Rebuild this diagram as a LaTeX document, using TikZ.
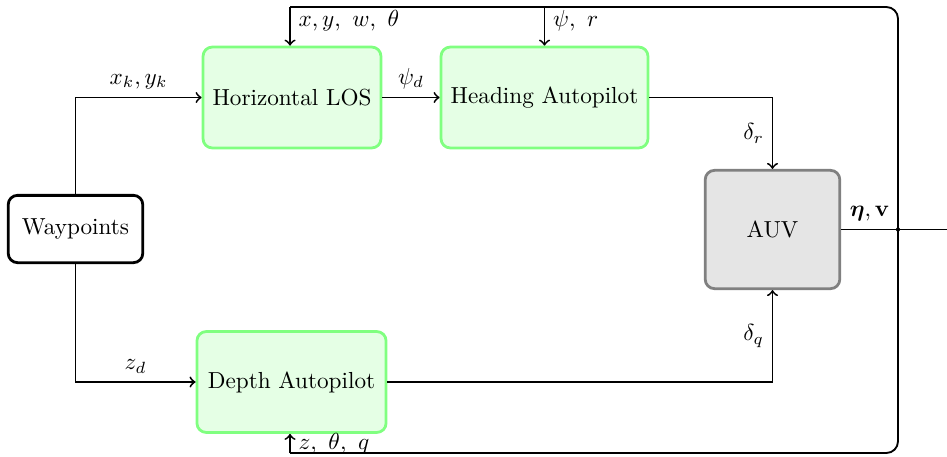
\documentclass[tikz,border=0pt]{standalone}
\usepackage{amsmath}
\usepackage{tikz}

\begin{document}
\begin{tikzpicture}[x=0.431pt, y=-0.431pt,
        ctrl/.style = {very thick, draw=green!50, fill=green!10, rounded corners=4pt, minimum height=43.5pt},
        src/.style = {very thick, draw, rounded corners=4pt, minimum width=58pt, minimum height=29pt},
        plant/.style = {very thick, draw=gray, fill=gray!20, rounded corners=4pt, minimum width=58pt, minimum height=51pt},
        every path/.style = {thick}]
        \useasboundingbox (0,0) rectangle (947,457);

        \node[src] (1) at (75.5,229) {Waypoints};
        \node[ctrl, minimum width=76.7pt] (2) at (292,97.5) {Horizontal LOS};
        \node[ctrl, minimum width=89.2pt] (3) at (544.5,97.5) {Heading Autopilot};
        \node[plant] (4) at (772.5,229.5) {AUV};
        \node[ctrl, minimum width=81.5pt] (5) at (291.5,382) {Depth Autopilot};
        \coordinate (6) at (898,229.5);
        \coordinate (7) at (947,229.5);
        \coordinate (8) at (290,7);
        \coordinate (9) at (290,453);

        \draw[->] (1) |- node[pos=0.75, above] {$x_k,y_k$} (2);
        \draw[->] (1) |- node[pos=0.75, above] {$z_d$} (5);
        \draw[->] (2) -- node[above] {$\psi_d$} (3);

        \draw[->] (3) -| node[pos=0.75, left] {$\delta_r$} (4);
        \draw[->] (5) -| node[pos=0.75, left] {$\delta_q$} (4);

        \draw (4) -- node[above] {$\boldsymbol{\eta},\mathbf{v}$} (6) -- (7);
        \fill (6) circle (0.9pt);

        % feedback
        \draw[rounded corners=5pt] (6) |- (8);
        \draw[->] (8) -- node[pos=0.35, right] {$x,y,\ w,\ \theta$} (8 |- 2.north);
        \draw[->] (3 |- 8) -- node[pos=0.35, right] {$\psi,\ r$} (3);
        \draw[rounded corners=5pt] (6) |- (9);
        \draw[->] (9) -- node[right] {$z,\ \theta,\ q$} (9 |- 5.south);
\end{tikzpicture}
\end{document}
